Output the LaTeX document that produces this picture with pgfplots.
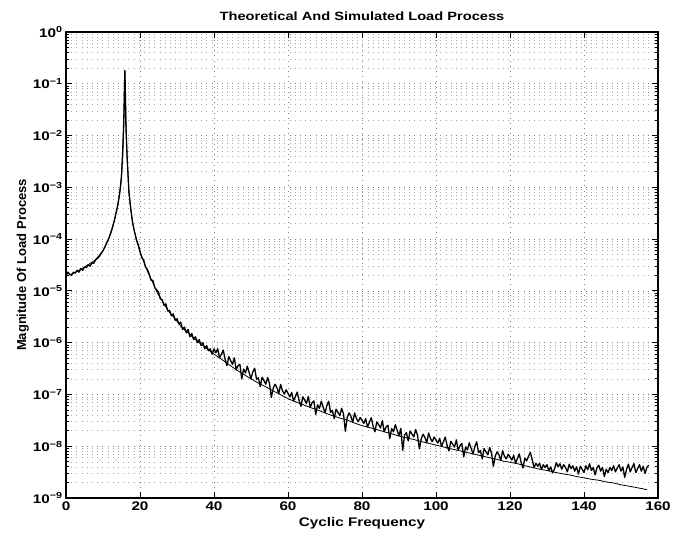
\documentclass[border=0pt]{standalone}
\usepackage{fontspec}
\setmainfont[FakeStretch=1.22]{Liberation Sans}
\newfontfamily\plainfont{Liberation Sans}
\usepackage{pgfplots}
\usepackage{pgfplotstable}
\pgfplotsset{compat=1.18}

% theoretical spectrum (smooth)
\pgfplotstableread{
x y
0 1.9e-5
2 2.2e-5
4 2.6e-5
6 3.2e-5
8 4.0e-5
10 6.0e-5
11 8.3e-5
12 1.26e-4
13 2.2e-4
14 4.5e-4
14.8 1.1e-3
15.3 4.0e-3
15.6 1.6e-2
15.8 0.08
15.9 0.18
16.0 0.09
16.2 0.02
16.5 4e-3
17 8e-4
18 2e-4
19 1e-4
20 5.6e-5
21 3.7e-5
22 2.4e-5
23 1.7e-5
24 1.17e-5
25 8.3e-6
26 6.4e-6
27 4.9e-6
28 3.8e-6
29 3.2e-6
30 2.6e-6
31 2.1e-6
32 1.78e-6
33 1.55e-6
34 1.33e-6
35 1.15e-6
36 1.0e-6
37 8.8e-7
38 7.8e-7
39 6.8e-7
40 6.0e-7
42 4.8e-7
44 3.8e-7
46 3.0e-7
48 2.45e-7
50 2.0e-7
52 1.66e-7
54 1.41e-7
56 1.17e-7
58 9.9e-8
60 8.3e-8
62 7.2e-8
64 6.4e-8
66 5.6e-8
68 5.0e-8
70 4.4e-8
72 3.9e-8
74 3.5e-8
76 3.2e-8
78 2.8e-8
80 2.5e-8
82 2.3e-8
84 2.1e-8
86 1.9e-8
88 1.74e-8
90 1.58e-8
92 1.45e-8
94 1.35e-8
96 1.23e-8
98 1.14e-8
100 1.05e-8
102 9.7e-9
104 8.9e-9
106 8.3e-9
108 7.7e-9
110 7.1e-9
112 6.6e-9
114 6.1e-9
116 5.7e-9
118 5.2e-9
120 4.9e-9
122 4.6e-9
124 4.2e-9
126 3.9e-9
128 3.6e-9
130 3.4e-9
132 3.16e-9
134 2.95e-9
136 2.8e-9
138 2.6e-9
140 2.45e-9
142 2.3e-9
144 2.2e-9
146 2.05e-9
148 1.95e-9
150 1.8e-9
152 1.7e-9
154 1.6e-9
156 1.5e-9
157 1.45e-9
}\theory

% simulated spectrum (noisy)
\pgfplotstableread{
x y
0 1.9e-5
0.5 2.3e-5
1 2.1e-5
1.5 2.0e-5
2 2.3e-5
2.5 2.2e-5
3 2.5e-5
3.5 2.3e-5
4 2.7e-5
4.5 2.5e-5
5 2.9e-5
5.5 2.8e-5
6 3.2e-5
6.5 3.0e-5
7 3.5e-5
7.5 3.4e-5
8 4.0e-5
8.5 4.3e-5
9 4.6e-5
9.5 5.3e-5
10 6.0e-5
10.5 7.0e-5
11 8.5e-5
11.5 1.0e-4
12 1.25e-4
12.5 1.6e-4
13 2.2e-4
13.5 3.1e-4
14 4.6e-4
14.5 7.5e-4
15 1.6e-3
15.3 4.5e-3
15.6 1.7e-2
15.8 8e-2
15.9 0.18
16.0 0.1
16.2 0.015
16.5 4e-3
17 8.5e-4
17.5 3.8e-4
18 2.1e-4
18.5 1.4e-4
19 1.0e-4
19.5 7.8e-5
20 5.8e-5
20.5 4.4e-5
21 3.9e-5
21.5 2.9e-5
22 2.6e-5
22.5 2.1e-5
23 1.6e-5
23.5 1.6e-5
24 1.15e-5
24.5 1.05e-5
25 9.5e-6
25.5 7.0e-6
26 6.8e-6
26.5 5.2e-6
27 5.6e-6
27.5 4.1e-6
28 4.2e-6
28.5 3.3e-6
29 3.6e-6
29.5 2.7e-6
30 2.9e-6
30.5 2.3e-6
31 2.5e-6
31.5 1.8e-6
32 2.0e-6
32.5 1.55e-6
33 1.8e-6
33.5 1.3e-6
34 1.5e-6
34.5 1.15e-6
35 1.3e-6
35.5 1.0e-6
36 1.15e-6
36.5 8.8e-7
37 1.0e-6
37.5 7.6e-7
38 8.8e-7
38.5 7.0e-7
39 7.6e-7
39.5 6.0e-7
40 7.6e-7
40.5 6.4e-7
41 7.6e-7
41.5 5.1e-7
42 6.0e-7
42.5 7.2e-7
43 4.8e-7
43.5 3.6e-7
44 5.4e-7
44.5 4.5e-7
45 3.8e-7
45.5 5.1e-7
46 3.0e-7
46.5 3.6e-7
47 3.8e-7
47.5 2.0e-7
48 3.1e-7
48.5 2.6e-7
49 3.5e-7
49.5 2.65e-7
50 2.0e-7
50.5 2.75e-7
51 3.2e-7
51.5 1.95e-7
52 2.1e-7
52.5 1.42e-7
53 2.15e-7
53.5 1.85e-7
54 1.58e-7
54.5 2.13e-7
55 1.63e-7
55.5 8.7e-8
56 1.31e-7
56.5 1.58e-7
57 1.36e-7
57.5 1.03e-7
58 1.56e-7
58.5 1.18e-7
59 1.02e-7
59.5 1.23e-7
60 1.05e-7
60.5 9.0e-8
61 1.09e-7
61.5 7.5e-8
62 9.1e-8
62.5 1.11e-7
63 7.6e-8
63.5 5.9e-8
64 9.0e-8
64.5 7.8e-8
65 6.7e-8
65.5 9.2e-8
66 5.6e-8
66.5 6.9e-8
67 7.5e-8
67.5 4.1e-8
68 6.3e-8
68.5 5.4e-8
69 7.4e-8
69.5 5.7e-8
70 4.4e-8
70.5 6.1e-8
71 7.4e-8
71.5 4.5e-8
72 4.9e-8
72.5 3.4e-8
73 5.2e-8
73.5 4.5e-8
74 3.9e-8
74.5 5.4e-8
75 4.2e-8
75.5 1.95e-8
76 3.6e-8
76.5 4.4e-8
77 3.8e-8
77.5 2.9e-8
78 4.4e-8
78.5 3.4e-8
79 3.0e-8
79.5 3.6e-8
80 3.15e-8
80.5 2.75e-8
81 3.4e-8
81.5 2.35e-8
82 2.9e-8
82.5 3.55e-8
83 2.45e-8
83.5 1.9e-8
84 2.95e-8
84.5 2.6e-8
85 2.25e-8
85.5 3.1e-8
86 1.9e-8
86.5 2.35e-8
87 2.55e-8
87.5 1.4e-8
88 2.2e-8
88.5 1.9e-8
89 2.6e-8
89.5 2.05e-8
90 1.58e-8
90.5 2.2e-8
91 8.3e-9
91.5 1.66e-8
92 1.83e-8
92.5 1.26e-8
93 1.97e-8
93.5 1.73e-8
94 1.51e-8
94.5 2.1e-8
95 1.63e-8
95.5 8.9e-9
96 1.38e-8
96.5 1.7e-8
97 1.49e-8
97.5 1.16e-8
98 1.8e-8
98.5 1.41e-8
99 1.23e-8
99.5 1.51e-8
100 1.32e-8
100.5 1.15e-8
101 1.42e-8
101.5 9.9e-9
102 1.22e-8
102.5 1.5e-8
103 1.04e-8
103.5 8.1e-9
104 1.25e-8
104.5 1.1e-8
105 9.6e-9
105.5 1.33e-8
106 8.3e-9
106.5 1.03e-8
107 1.13e-8
107.5 6.2e-9
108 9.7e-9
108.5 8.5e-9
109 1.17e-8
109.5 9.1e-9
110 7.1e-9
110.5 9.8e-9
111 1.22e-8
111.5 7.5e-9
112 8.3e-9
112.5 5.7e-9
113 9.0e-9
113.5 7.8e-9
114 6.8e-9
114.5 9.5e-9
115 7.4e-9
115.5 4.1e-9
116 6.4e-9
116.5 7.8e-9
117 6.9e-9
117.5 5.3e-9
118 8.2e-9
118.5 6.4e-9
119 5.7e-9
119.5 7.0e-9
120 6.2e-9
120.5 5.4e-9
121 6.7e-9
121.5 4.65e-9
122 5.8e-9
122.5 7.1e-9
123 4.9e-9
123.5 3.8e-9
124 5.9e-9
124.5 5.2e-9
125 6.4e-9
125.5 7.6e-9
126 5.5e-9
126.5 3.85e-9
127 4.7e-9
127.5 4.1e-9
128 4.7e-9
128.5 3.55e-9
129 4.4e-9
129.5 3.9e-9
130 4.4e-9
130.5 3.35e-9
131 4.0e-9
131.5 3.05e-9
132 3.6e-9
132.5 4.8e-9
133 4.0e-9
133.5 4.6e-9
134 3.6e-9
134.5 4.4e-9
135 3.9e-9
135.5 3.2e-9
136 4.5e-9
136.5 3.7e-9
137 4.2e-9
137.5 3.3e-9
138 4.0e-9
138.5 2.9e-9
139 4.1e-9
139.5 3.6e-9
140 3.1e-9
140.5 4.2e-9
141 3.5e-9
141.5 4.6e-9
142 3.4e-9
142.5 3.9e-9
143 2.8e-9
143.5 3.8e-9
144 4.3e-9
144.5 3.3e-9
145 3.9e-9
145.5 2.6e-9
146 3.6e-9
146.5 3.1e-9
147 3.9e-9
147.5 3.4e-9
148 4.2e-9
148.5 3.2e-9
149 3.8e-9
149.5 4.4e-9
150 3.3e-9
150.5 4.0e-9
151 2.5e-9
151.5 3.6e-9
152 4.5e-9
152.5 3.2e-9
153 3.9e-9
153.5 4.6e-9
154 3.1e-9
154.5 3.7e-9
155 4.4e-9
155.5 3.3e-9
156 4.1e-9
156.5 3.0e-9
157 3.9e-9
157.5 4.3e-9
}\simulated

\begin{document}
\begin{tikzpicture}
\begin{axis}[
  scale only axis,
  width=592pt, height=466pt,
  xmin=0, xmax=160,
  ymin=1e-9, ymax=1,
  ymode=log, log basis y=10,
  xtick={0,20,...,160},
  ytick={1e-9,1e-8,1e-7,1e-6,1e-5,1e-4,1e-3,1e-2,1e-1,1},
  minor ytick={2e-9,3e-9,4e-9,5e-9,6e-9,7e-9,8e-9,9e-9,
    2e-8,3e-8,4e-8,5e-8,6e-8,7e-8,8e-8,9e-8,
    2e-7,3e-7,4e-7,5e-7,6e-7,7e-7,8e-7,9e-7,
    2e-6,3e-6,4e-6,5e-6,6e-6,7e-6,8e-6,9e-6,
    2e-5,3e-5,4e-5,5e-5,6e-5,7e-5,8e-5,9e-5,
    2e-4,3e-4,4e-4,5e-4,6e-4,7e-4,8e-4,9e-4,
    2e-3,3e-3,4e-3,5e-3,6e-3,7e-3,8e-3,9e-3,
    2e-2,3e-2,4e-2,5e-2,6e-2,7e-2,8e-2,9e-2,
    0.2,0.3,0.4,0.5,0.6,0.7,0.8,0.9},
  yticklabels={10\textsuperscript{−9},10\textsuperscript{−8},10\textsuperscript{−7},10\textsuperscript{−6},10\textsuperscript{−5},10\textsuperscript{−4},10\textsuperscript{−3},10\textsuperscript{−2},10\textsuperscript{−1},10\textsuperscript{0}},
  /pgf/number format/assume math mode=true,
  tick align=inside,
  major tick length=6pt, minor tick length=3pt,
  tick style={black, line width=0.9pt},
  axis line style={line width=1.3pt},
  grid=both,
  major grid style={black!50, line width=0.6pt, dash pattern=on 0.7pt off 4.5pt},
  minor grid style={black!35, line width=0.6pt, dash pattern=on 0.7pt off 4.5pt},
  tick label style={font=\bfseries\fontsize{12.5}{14}\selectfont},
  xlabel style={font=\bfseries\fontsize{12.5}{14}\selectfont},
  ylabel style={font=\plainfont\bfseries\fontsize{13}{15}\selectfont, xshift=0pt, yshift=-3pt},
  title style={font=\bfseries\fontsize{12}{14}\selectfont, yshift=2pt},
  title={Theoretical And Simulated Load Process},
  xlabel={Cyclic Frequency},
  ylabel={Magnitude Of Load Process},
  clip=true,
]
\addplot[black, line width=0.8pt, line join=round] table[x=x, y=y] {\theory};
\addplot[black, line width=1.3pt, line join=round] table[x=x, y=y] {\simulated};
\end{axis}
\path ([xshift=-66pt, yshift=-44pt]current axis.south west) rectangle ([xshift=25pt, yshift=32pt]current axis.north east);
\end{tikzpicture}
\end{document}
